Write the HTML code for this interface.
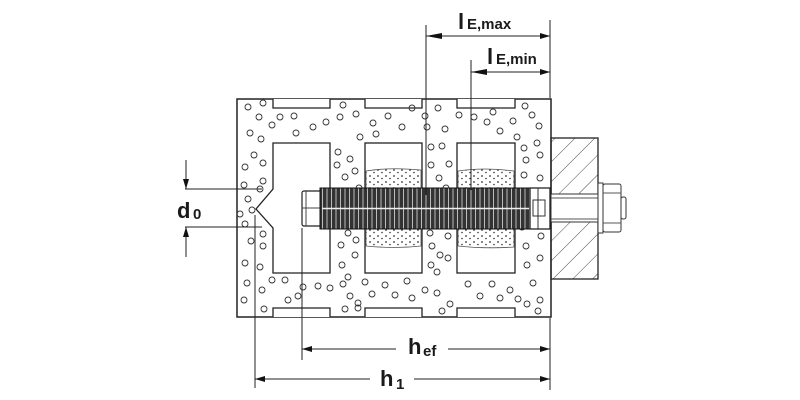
<!DOCTYPE html>
<html><head><meta charset="utf-8"><style>
html,body{margin:0;padding:0;background:#fff;}
svg{display:block;}
text{font-family:"Liberation Sans",sans-serif;font-weight:bold;fill:#1a1a1a;}
</style></head><body>
<svg width="800" height="400" viewBox="0 0 800 400" xmlns="http://www.w3.org/2000/svg">
<defs>
<pattern id="hatch" width="14" height="14" patternUnits="userSpaceOnUse" patternTransform="rotate(45)">
<line x1="0" y1="0" x2="0" y2="14" stroke="#333" stroke-width="0.9"/>
</pattern>
<pattern id="dots" width="8" height="6" patternUnits="userSpaceOnUse">
<circle cx="2" cy="2" r="0.9" fill="#333"/><circle cx="6" cy="4.5" r="0.8" fill="#333"/>
</pattern>
<pattern id="ribs" width="4.5" height="40" patternUnits="userSpaceOnUse">
<rect width="4.5" height="40" fill="#333"/><line x1="3" y1="0" x2="3" y2="40" stroke="#bbb" stroke-width="1"/>
</pattern>
<marker id="ar" viewBox="0 0 10 6" refX="10" refY="3" markerWidth="16" markerHeight="6" markerUnits="userSpaceOnUse" orient="auto"><path d="M0,0 L10,3 L0,6 Z" fill="#111"/></marker>
</defs>

<path d="M237,99 H551 V317 H237 Z" fill="#fff" stroke="#222" stroke-width="1.5"/>
<g fill="#fff" stroke="#222" stroke-width="1.3">
<path d="M273,99 V108 H330 V99"/><path d="M365,99 V108 H422 V99"/><path d="M457,99 V108 H515 V99"/>
<path d="M273,317 V308 H330 V317"/><path d="M365,317 V308 H422 V317"/><path d="M457,317 V308 H515 V317"/>
<path d="M273,143 H330 V273 H273 V228 L256,209 L273,189 Z"/>
<rect x="365" y="143" width="57" height="130"/>
<rect x="457" y="143" width="58" height="130"/>
</g>
<g stroke="#555" stroke-width="0.8">
<path d="M366,171 Q390,167 421,170 V191 H366 Z" fill="url(#dots)"/>
<path d="M366,226 H421 V246 Q395,249 366,246 Z" fill="url(#dots)"/>
<path d="M458,171 Q485,167 514,171 V191 H458 Z" fill="url(#dots)"/>
<path d="M458,226 H514 V247 Q485,249 458,246 Z" fill="url(#dots)"/>
</g>
<g fill="none" stroke="#333" stroke-width="0.9">
<circle cx="248" cy="107" r="3"/><circle cx="263" cy="103" r="3"/><circle cx="259" cy="117" r="3"/><circle cx="280" cy="117" r="3"/><circle cx="294" cy="116" r="3"/><circle cx="313" cy="127" r="3"/><circle cx="272" cy="125" r="3"/><circle cx="296" cy="133" r="3"/><circle cx="250" cy="133" r="3"/><circle cx="261" cy="139" r="3"/>
<circle cx="343" cy="105" r="3"/><circle cx="340" cy="117" r="3"/><circle cx="326" cy="122" r="3"/><circle cx="356" cy="114" r="3"/><circle cx="373" cy="123" r="3"/><circle cx="376" cy="134" r="3"/><circle cx="388" cy="116" r="3"/><circle cx="402" cy="127" r="3"/><circle cx="412" cy="108" r="3"/><circle cx="425" cy="116" r="3"/><circle cx="427" cy="127" r="3"/><circle cx="438" cy="108" r="3"/><circle cx="445" cy="129" r="3"/><circle cx="459" cy="115" r="3"/><circle cx="474" cy="117" r="3"/><circle cx="487" cy="122" r="3"/><circle cx="493" cy="112" r="3"/><circle cx="500" cy="131" r="3"/><circle cx="513" cy="121" r="3"/><circle cx="525" cy="106" r="3"/><circle cx="532" cy="115" r="3"/><circle cx="539" cy="126" r="3"/><circle cx="517" cy="137" r="3"/><circle cx="360" cy="137" r="3"/>
<circle cx="254" cy="155" r="3"/><circle cx="263" cy="163" r="3"/><circle cx="245" cy="167" r="3"/><circle cx="263" cy="181" r="3"/><circle cx="244" cy="185" r="3"/><circle cx="260" cy="189" r="3"/><circle cx="248" cy="199" r="3"/><circle cx="252" cy="210" r="3"/><circle cx="240" cy="214" r="3"/><circle cx="245" cy="224" r="3"/><circle cx="263" cy="234" r="3"/><circle cx="251" cy="241" r="3"/><circle cx="263" cy="246" r="3"/><circle cx="245" cy="263" r="3"/><circle cx="260" cy="267" r="3"/><circle cx="247" cy="283" r="3"/><circle cx="262" cy="290" r="3"/><circle cx="244" cy="300" r="3"/><circle cx="264" cy="309" r="3"/>
<circle cx="338" cy="152" r="3"/><circle cx="350" cy="159" r="3"/><circle cx="337" cy="165" r="3"/><circle cx="355" cy="171" r="3"/><circle cx="345" cy="177" r="3"/><circle cx="359" cy="188" r="3"/><circle cx="343" cy="196" r="3"/><circle cx="348" cy="233" r="3"/><circle cx="356" cy="240" r="3"/><circle cx="341" cy="245" r="3"/><circle cx="355" cy="255" r="3"/><circle cx="342" cy="265" r="3"/><circle cx="348" cy="277" r="3"/>
<circle cx="431" cy="147" r="3"/><circle cx="442" cy="146" r="3"/><circle cx="431" cy="165" r="3"/><circle cx="449" cy="164" r="3"/><circle cx="439" cy="178" r="3"/><circle cx="446" cy="188" r="3"/><circle cx="430" cy="233" r="3"/><circle cx="448" cy="236" r="3"/><circle cx="432" cy="246" r="3"/><circle cx="440" cy="255" r="3"/><circle cx="448" cy="258" r="3"/><circle cx="431" cy="265" r="3"/><circle cx="437" cy="272" r="3"/>
<circle cx="524" cy="148" r="3"/><circle cx="537" cy="143" r="3"/><circle cx="526" cy="160" r="3"/><circle cx="540" cy="155" r="3"/><circle cx="524" cy="175" r="3"/><circle cx="540" cy="178" r="3"/><circle cx="528" cy="195" r="3"/><circle cx="536" cy="222" r="3"/><circle cx="522" cy="227" r="3"/><circle cx="541" cy="236" r="3"/><circle cx="526" cy="246" r="3"/><circle cx="540" cy="258" r="3"/><circle cx="527" cy="265" r="3"/>
<circle cx="272" cy="280" r="3"/><circle cx="285" cy="280" r="3"/><circle cx="303" cy="287" r="3"/><circle cx="318" cy="286" r="3"/><circle cx="298" cy="296" r="3"/><circle cx="288" cy="300" r="3"/><circle cx="330" cy="288" r="3"/><circle cx="343" cy="284" r="3"/><circle cx="350" cy="296" r="3"/><circle cx="358" cy="303" r="3"/><circle cx="365" cy="282" r="3"/><circle cx="372" cy="294" r="3"/><circle cx="385" cy="285" r="3"/><circle cx="395" cy="295" r="3"/><circle cx="407" cy="281" r="3"/><circle cx="412" cy="298" r="3"/><circle cx="425" cy="290" r="3"/><circle cx="437" cy="293" r="3"/><circle cx="442" cy="311" r="3"/><circle cx="450" cy="304" r="3"/><circle cx="468" cy="284" r="3"/><circle cx="480" cy="296" r="3"/><circle cx="492" cy="284" r="3"/><circle cx="500" cy="298" r="3"/><circle cx="510" cy="290" r="3"/><circle cx="518" cy="299" r="3"/><circle cx="527" cy="304" r="3"/><circle cx="533" cy="283" r="3"/><circle cx="540" cy="300" r="3"/><circle cx="538" cy="311" r="3"/><circle cx="345" cy="309" r="3"/><circle cx="358" cy="308" r="3"/>
</g>
<rect x="551" y="138" width="47" height="141" fill="url(#hatch)" stroke="#222" stroke-width="1.3"/>
<rect x="551" y="194" width="48" height="28" fill="#fff" stroke="#333" stroke-width="1"/>
<line x1="551" y1="198" x2="598" y2="198" stroke="#555"/>
<line x1="551" y1="219" x2="598" y2="219" stroke="#555"/>
<rect x="598" y="183" width="5" height="50" fill="#fff" stroke="#333"/>
<rect x="603" y="184" width="18" height="48" rx="2" fill="#fff" stroke="#333"/>
<line x1="603" y1="193" x2="621" y2="193" stroke="#555"/><line x1="603" y1="223" x2="621" y2="223" stroke="#555"/>
<rect x="621" y="197" width="5" height="22" rx="2" fill="#fff" stroke="#333"/>
<rect x="302" y="191" width="20" height="35" rx="2" fill="#fff" stroke="#222" stroke-width="1.2"/>
<line x1="306" y1="191" x2="306" y2="226" stroke="#444"/>
<line x1="302" y1="208" x2="322" y2="208" stroke="#444"/>
<rect x="320" y="188" width="210" height="41" fill="url(#ribs)" stroke="#111"/>
<line x1="322" y1="208.5" x2="530" y2="208.5" stroke="#eee" stroke-width="1.5"/>
<rect x="530" y="188" width="20" height="41" fill="#fff" stroke="#222" stroke-width="1.3"/>
<rect x="533" y="200" width="12" height="16" fill="none" stroke="#333"/>
<line x1="538" y1="188" x2="538" y2="229" stroke="#333"/>
<g stroke="#222" stroke-width="1" fill="none">
<line x1="426" y1="25" x2="426" y2="195"/>
<line x1="471" y1="60" x2="471" y2="190"/>
<line x1="550" y1="20" x2="550" y2="98"/>
<line x1="426" y1="36" x2="550" y2="36" marker-end="url(#ar)"/>
<line x1="471" y1="72" x2="550" y2="72" marker-end="url(#ar)"/>
<line x1="185" y1="189" x2="262" y2="189"/>
<line x1="185" y1="227" x2="262" y2="227"/>
<line x1="186" y1="160" x2="186" y2="189" marker-end="url(#ar)"/>
<line x1="186" y1="257" x2="186" y2="227" marker-end="url(#ar)"/>
<line x1="302" y1="228" x2="302" y2="360"/>
<line x1="255" y1="215" x2="255" y2="388"/>
<line x1="550" y1="318" x2="550" y2="390"/>
<line x1="396" y1="349" x2="302" y2="349" marker-end="url(#ar)"/>
<line x1="448" y1="349" x2="550" y2="349" marker-end="url(#ar)"/>
<line x1="370" y1="379" x2="255" y2="379" marker-end="url(#ar)"/>
<line x1="414" y1="379" x2="550" y2="379" marker-end="url(#ar)"/>
</g>
<path d="M426,36 L442,33 L442,39 Z M471,72 L487,69 L487,75 Z" fill="#111"/>
<text x="458" y="29" font-size="22" font-weight="normal">l</text><text x="467" y="29" font-size="15">E,max</text>
<text x="487" y="64" font-size="22" font-weight="normal">l</text><text x="496" y="64" font-size="15">E,min</text>
<text x="177" y="218" font-size="22">d</text><text x="193" y="219" font-size="15">0</text>
<text x="408" y="354" font-size="22">h</text><text x="423" y="356" font-size="15">ef</text>
<text x="380" y="386" font-size="22">h</text><text x="396" y="389" font-size="15">1</text>
</svg>
</body></html>
